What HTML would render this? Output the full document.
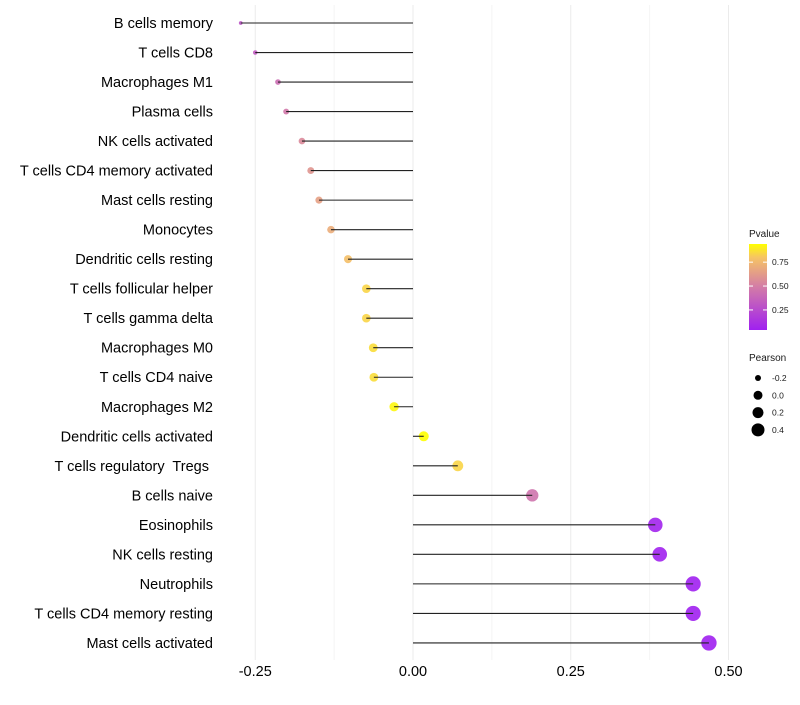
<!DOCTYPE html>
<html><head><meta charset="utf-8"><style>
html,body{margin:0;padding:0;background:#fff;}
svg text{font-family:"Liberation Sans",sans-serif;white-space:pre;}
</style></head><body>
<svg id="chart" width="800" height="700" xmlns="http://www.w3.org/2000/svg">
<g id="grid"></g>
<g id="marks"></g>
<g id="ylabels"></g>
<g id="xlabels"></g>
<g id="legend"></g>
</svg>
<script>
const categories=["B cells memory","T cells CD8","Macrophages M1","Plasma cells","NK cells activated","T cells CD4 memory activated","Mast cells resting","Monocytes","Dendritic cells resting","T cells follicular helper","T cells gamma delta","Macrophages M0","T cells CD4 naive","Macrophages M2","Dendritic cells activated","T cells regulatory  Tregs ","B cells naive","Eosinophils","NK cells resting","Neutrophils","T cells CD4 memory resting","Mast cells activated"];
const pearson=[-0.273,-0.250,-0.214,-0.201,-0.176,-0.162,-0.149,-0.130,-0.103,-0.074,-0.074,-0.063,-0.062,-0.030,0.017,0.071,0.189,0.384,0.391,0.444,0.444,0.469];
const pvalues=[0.30,0.33,0.42,0.47,0.55,0.60,0.65,0.70,0.78,0.84,0.84,0.86,0.86,0.92,0.94,0.84,0.45,0.06,0.05,0.04,0.04,0.04];
const xTicks=[-0.25,0,0.25,0.5];
const xTickLabels=["-0.25","0.00","0.25","0.50"];
const legendP=[0.25,0.5,0.75];
const legendSize=[-0.2,0,0.2,0.4];
const NS="http://www.w3.org/2000/svg";
const x=v=>413+v*631;
const y=i=>23+i*29.52;
const r=v=>Math.sqrt(Math.max(0.5,24+75*v));
function lerp(a,b,t){return a.map((c,i)=>Math.round(c+(b[i]-c)*t));}
const stops=[[0.04,[160,32,240]],[0.5,[212,126,165]],[0.8,[246,196,100]],[0.94,[255,255,0]]];
function col(p){p=Math.max(0.04,Math.min(0.94,p));for(let i=0;i<stops.length-1;i++){if(p<=stops[i+1][0]){const t=(p-stops[i][0])/(stops[i+1][0]-stops[i][0]);const c=lerp(stops[i][1],stops[i+1][1],t);return `rgb(${c})`;}}return "rgb(255,255,0)";}
function mk(tag,attrs,parent){const e=document.createElementNS(NS,tag);for(const k in attrs)e.setAttribute(k,attrs[k]);parent.appendChild(e);return e;}
const grid=document.getElementById('grid'),marks=document.getElementById('marks'),yl=document.getElementById('ylabels'),xl=document.getElementById('xlabels'),lg=document.getElementById('legend');
for(let v=-0.25;v<=0.626;v+=0.125){const g=mk('line',{x1:x(v),x2:x(v),y1:5,y2:660,stroke:Math.abs(v*4-Math.round(v*4))<0.01?'#ebebeb':'#f4f4f4','stroke-width':1},grid);

}
xTicks.forEach((v,i)=>{const t=mk('text',{x:x(v),y:676,'text-anchor':'middle','font-size':14.5,fill:'#000'},xl);t.textContent=xTickLabels[i];

});
categories.forEach((c,i)=>{
const t=mk('text',{x:213,y:y(i)+5,'text-anchor':'end','font-size':14.5,fill:'#000'},yl);t.textContent=c;


const d=mk('circle',{cx:x(pearson[i]),cy:y(i),r:r(pearson[i]),fill:col(pvalues[i]),opacity:0.9},marks);


const l=mk('line',{x1:x(pearson[i]),x2:x(0),y1:y(i),y2:y(i),stroke:'#222','stroke-width':1.1},marks);


});
const tt=mk('text',{x:749,y:237,'font-size':10,fill:'#1a1a1a'},lg);tt.textContent='Pvalue';


const defs=mk('defs',{},lg);const gr=mk('linearGradient',{id:'pg',x1:0,y1:1,x2:0,y2:0},defs);
stops.forEach(s=>mk('stop',{offset:(s[0]-0.04)/0.9,'stop-color':`rgb(${s[1]})`},gr));
const bar=mk('rect',{x:749,y:244,width:18,height:86,fill:'url(#pg)'},lg);


const py=p=>330-(p-0.04)/0.9*86;
legendP.forEach(p=>{mk('line',{x1:749,x2:753,y1:py(p),y2:py(p),stroke:'#fff'},lg);mk('line',{x1:763,x2:767,y1:py(p),y2:py(p),stroke:'#fff'},lg);
const t=mk('text',{x:772,y:py(p)+3,'font-size':8.5,fill:'#1a1a1a'},lg);t.textContent=p.toFixed(2);

});
const st=mk('text',{x:749,y:361,'font-size':10,fill:'#1a1a1a'},lg);st.textContent='Pearson';


const lr=[3,4.5,5.5,6.5];
legendSize.forEach((v,i)=>{const cy=378+i*17.3;const c=mk('circle',{cx:758,cy:cy,r:lr[i],fill:'#000'},lg);


const t=mk('text',{x:772,y:cy+3,'font-size':8.5,fill:'#1a1a1a'},lg);t.textContent=v.toFixed(1);

});
</script>
</body></html>
